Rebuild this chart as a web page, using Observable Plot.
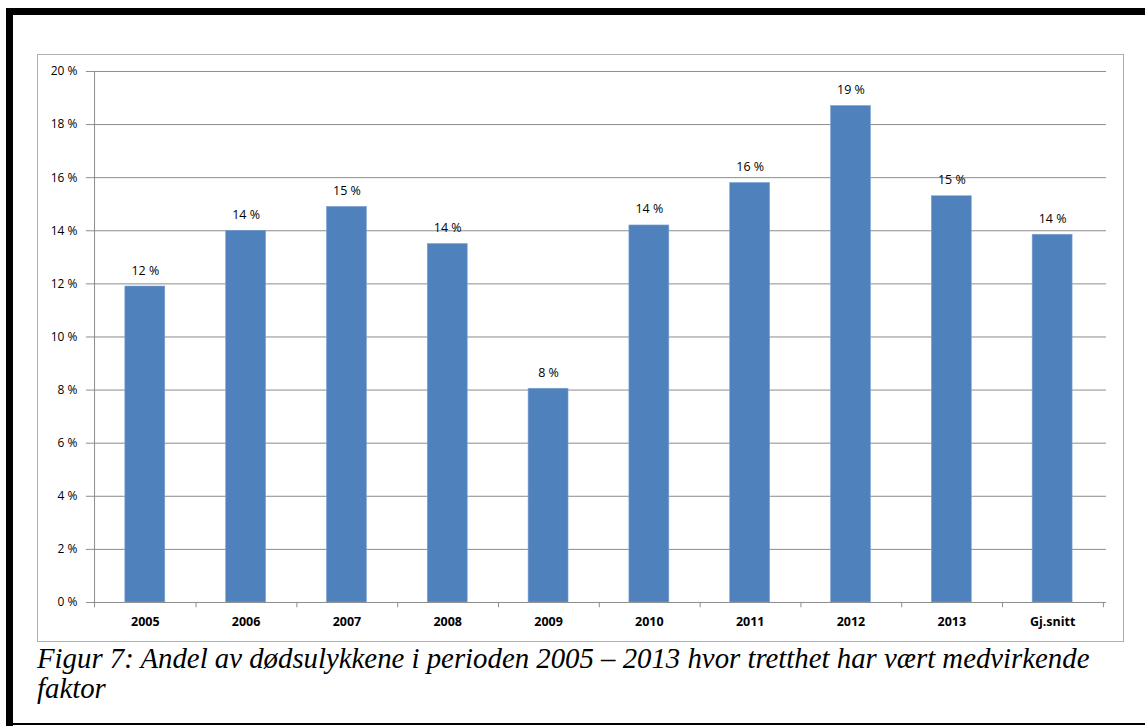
<!DOCTYPE html>
<html>
<head>
<meta charset="utf-8">
<script src="https://cdn.jsdelivr.net/npm/d3@7"></script>
<script src="https://cdn.jsdelivr.net/npm/@observablehq/plot@0.6"></script>
<style>
  html, body { margin: 0; padding: 0; background: #fff; width: 1145px; height: 726px; overflow: hidden; }
  .frameTop { position: absolute; left: 6px; top: 8px; width: 1139px; height: 7px; background: #000; }
  .frameLeft { position: absolute; left: 6px; top: 8px; width: 7px; height: 718px; background: #000; }
  .frameBottom { position: absolute; left: 6px; top: 723px; width: 1139px; height: 2px; background: #000; }
  .box { position: absolute; left: 37px; top: 54px; width: 1085px; height: 586px; border: 1px solid #b0b0b0; }
  .box svg { position: absolute; left: -1px; top: -1px; }
  .caption { position: absolute; left: 37px; top: 643px; white-space: nowrap; font-family: "Liberation Serif", "DejaVu Serif", serif; font-style: italic; font-size: 28.8px; line-height: 30px; color: #000; }
</style>
</head>
<body>
<div class="frameTop"></div>
<div class="frameLeft"></div>
<div class="frameBottom"></div>
<div class="box" id="chart"></div>
<div class="caption">Figur 7: Andel av dødsulykkene i perioden 2005 – 2013 hvor tretthet har vært medvirkende<br>faktor</div>
<script>
const categories = ["2005", "2006", "2007", "2008", "2009", "2010", "2011", "2012", "2013", "Gj.snitt"];
const values = [11.9, 14.0, 14.9, 13.5, 8.05, 14.2, 15.8, 18.7, 15.3, 13.85];
const valueLabels = ["12 %", "14 %", "15 %", "14 %", "8 %", "14 %", "16 %", "19 %", "15 %", "14 %"];
const yTicks = [0, 2, 4, 6, 8, 10, 12, 14, 16, 18, 20];
const yTickLabels = ["0 %", "2 %", "4 %", "6 %", "8 %", "10 %", "12 %", "14 %", "16 %", "18 %", "20 %"];

const data = categories.map((c, i) => ({cat: c, value: values[i], label: valueLabels[i]}));

const W = 1087, H = 588;
const mL = 54, mR = 16, mT = 17, mB = 39;
const step = (W - mL - mR) / categories.length;

const font = "'Open Sans', 'Liberation Sans', sans-serif";

const chart = Plot.plot({
  width: W,
  height: H,
  marginLeft: mL,
  marginRight: mR,
  marginTop: mT,
  marginBottom: mB,
  style: { fontFamily: font, fontSize: "12px", color: "#000", background: "transparent", overflow: "visible" },
  x: { domain: categories, paddingInner: 0.6, paddingOuter: 0.3, label: null, axis: null },
  y: { domain: [0, 20], label: null, axis: null },
  marks: [
    Plot.ruleY(yTicks.filter(d => d > 0), { stroke: "#8c8c8c", strokeWidth: 1 }),
    Plot.barY(data, { x: "cat", y: "value", fill: "#4f81bd", stroke: "#7ea3d3", strokeWidth: 0.6 }),
    Plot.ruleY([0], { stroke: "#8c8c8c", strokeWidth: 1 }),
    Plot.ruleX([0], { x: () => categories[0], dx: -step / 2, y1: 0, y2: 20, stroke: "#8c8c8c" }),
    Plot.axisY({ ticks: yTicks, tickFormat: (d) => yTickLabels[yTicks.indexOf(d)], tickSize: 5, tickPadding: 9, stroke: "#8c8c8c", fontSize: 12, fill: "#000" }),
    Plot.ruleX(categories, { x: d => d, dx: step / 2, y1: 0, y2: -0.2, stroke: "#8c8c8c" }),
    Plot.ruleX([categories[0]], { x: d => d, dx: -step / 2, y1: 0, y2: -0.2, stroke: "#8c8c8c" }),
    Plot.text(categories, { x: d => d, y: 0, dy: 20, text: d => d, fontWeight: "bold", fontSize: 12.5, fill: "#000" }),
    Plot.text(data, { x: "cat", y: "value", text: "label", dy: -16, fontSize: 12.5, fill: "#000" })
  ]
});
document.getElementById("chart").appendChild(chart);
</script>
</body>
</html>
